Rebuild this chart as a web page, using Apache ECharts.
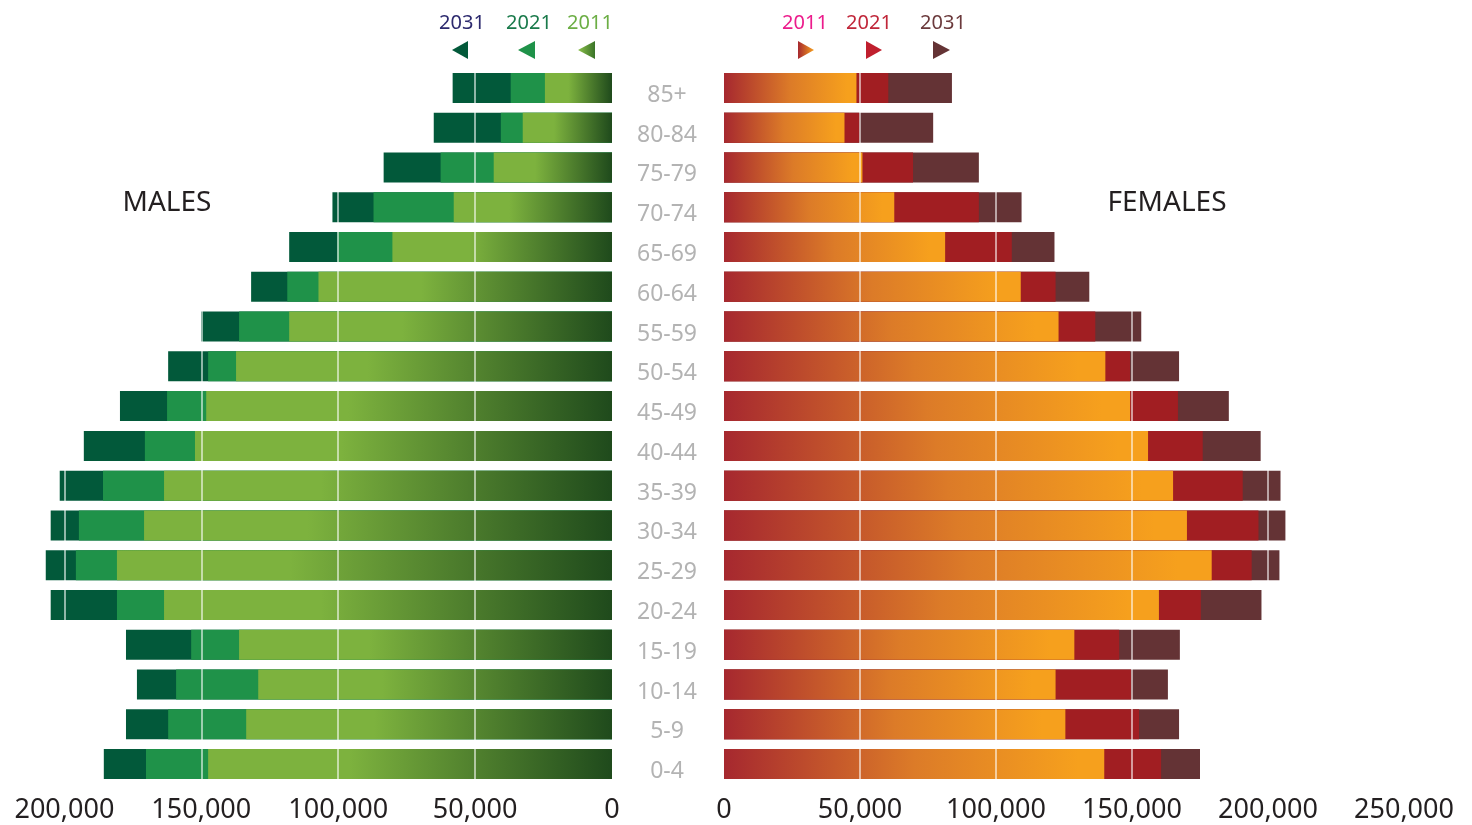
<!DOCTYPE html>
<html><head><meta charset="utf-8">
<script src="https://cdn.jsdelivr.net/npm/echarts@6/dist/echarts.min.js"></script>
<style>html,body{margin:0;padding:0;background:#fff}#c{width:1472px;height:825px}</style>
</head><body><div id="c"></div>
<script>
const ages = ['0-4','5-9','10-14','15-19','20-24','25-29','30-34','35-39','40-44','45-49','50-54','55-59','60-64','65-69','70-74','75-79','80-84','85+'];
const xTicks = [0, 50000, 100000, 150000, 200000, 250000];
const male2031 = [185600,177500,173500,177500,205000,206800,205000,201700,192900,179700,162100,150100,131800,117900,102100,83400,65100,58200];
const male2021 = [170200,162100,159200,153700,180800,195800,194700,185900,170600,162500,147500,136200,118600,100300,87100,62600,40600,37000];
const male2011 = [147500,133600,129200,136200,163600,180800,170900,163600,152300,148200,137300,117900,107200,80200,57800,43200,32600,24500];
const female2011 = [139800,125500,121900,128800,159900,179300,170200,165100,155900,149300,140200,123000,109100,81300,62600,50900,44300,48700];
const female2021 = [160700,152600,149700,145300,175300,194000,196500,190700,176000,166900,149300,136500,121900,105800,93700,69500,49800,60400];
const female2031 = [175000,167300,163200,167600,197600,204200,206400,204600,197300,185600,167300,153400,134300,121500,109400,93700,76900,83800];

const FONT = 'Noto Sans';
const chart = echarts.init(document.getElementById('c'));
const G = echarts.graphic.LinearGradient;
const maleGrad = new G(0,0,1,0,[{offset:0,color:'#7db23e'},{offset:0.35,color:'#7db23e'},{offset:1,color:'#1f4a1c'}]);
const femGrad = new G(0,0,1,0,[{offset:0,color:'#a6282f'},{offset:0.5,color:'#dc7b28'},{offset:0.93,color:'#f6a01d'},{offset:1,color:'#f6a01d'}]);
const fmt = v => v.toLocaleString('en-US');

function xAxis(gi, inverse, max){
  return {gridIndex:gi, type:'value', min:0, max:max, interval:50000, inverse:inverse, z:10,
    axisLine:{show:false}, axisTick:{show:false},
    axisLabel:{color:'#231f20', fontSize:27, fontFamily:FONT, margin:13, formatter:fmt,
      showMaxLabel: max % 50000 === 0},
    splitLine:{show:true, showMinLine:false, showMaxLine: max % 50000 === 0,
      lineStyle:{color:'rgba(255,255,255,0.75)', width:1.5}}};
}
function bar(name, gi, data, color){
  return {name:name, type:'bar', xAxisIndex:gi, yAxisIndex:gi, data:data, barWidth:30, barGap:'-100%',
    itemStyle:{color:color}, silent:true};
}
function txt(t, x, y, size, color){
  return {type:'text', x:x, y:y, z:100, style:{text:t, fontSize:size, fontFamily:FONT, fill:color, align:'center', verticalAlign:'middle'}};
}

chart.setOption({
  animation:false,
  textStyle:{fontFamily:FONT},
  grid:[
    {left:37, right:860, top:68, bottom:41},
    {left:724, right:68, top:68, bottom:41}
  ],
  xAxis:[ xAxis(0, true, 210000), xAxis(1, false, 250000) ],
  yAxis:[
    {gridIndex:0, type:'category', data:ages, position:'right', axisLine:{show:false}, axisTick:{show:false},
     axisLabel:{color:'#b3b3b3', fontSize:23, fontFamily:FONT, align:'center', margin:55,
       formatter: v => '{a|' + v + '}',
       rich:{a:{color:'#b3b3b3', fontSize:23, fontFamily:FONT, padding:[15,0,0,0]}}}},
    {gridIndex:1, type:'category', data:ages, show:false}
  ],
  series:[
    bar('2031',0,male2031,'#02593a'),
    bar('2021',0,male2021,'#1f9249'),
    bar('2011',0,male2011,maleGrad),
    bar('2031',1,female2031,'#643335'),
    bar('2021',1,female2021,'#a11e22'),
    bar('2011',1,female2011,femGrad)
  ],
  graphic:[
    txt('MALES', 167, 203, 28, '#231f20'),
    txt('FEMALES', 1167, 203, 28, '#231f20'),
    txt('2031', 462, 23, 20, '#2d2a6e'),
    txt('2021', 529, 23, 20, '#1a7a4b'),
    txt('2011', 590, 23, 20, '#6cae45'),
    txt('2011', 805, 23, 20, '#ec1c8c'),
    txt('2021', 869, 23, 20, '#c0273a'),
    txt('2031', 943, 23, 20, '#6b3a3c'),
    {type:'polygon', shape:{points:[[452,50],[468,41],[468,59]]}, style:{fill:'#02593a'}},
    {type:'polygon', shape:{points:[[518,50],[535,41],[535,59]]}, style:{fill:'#1f9249'}},
    {type:'polygon', shape:{points:[[578,50],[595,41],[595,59]]}, style:{fill:new G(0,0,1,0,[{offset:0,color:'#8cc04a'},{offset:1,color:'#3a7429'}])}},
    {type:'polygon', shape:{points:[[798,41],[798,59],[814,50]]}, style:{fill:new G(0,0,1,0,[{offset:0,color:'#a6282f'},{offset:1,color:'#f6a01d'}])}},
    {type:'polygon', shape:{points:[[866,41],[866,59],[882,50]]}, style:{fill:'#c01f2e'}},
    {type:'polygon', shape:{points:[[933,41],[933,59],[950,50]]}, style:{fill:'#643335'}}
  ]
});
</script>
</body></html>
